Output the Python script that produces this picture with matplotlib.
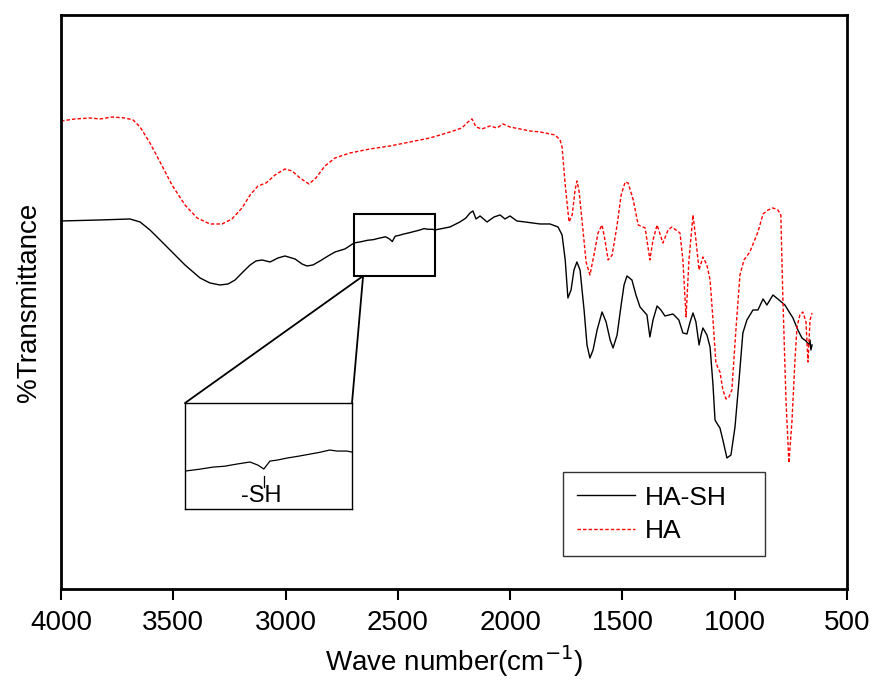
import numpy as np
import matplotlib
matplotlib.use('Agg')
import matplotlib.pyplot as plt
from matplotlib.patches import Rectangle, ConnectionPatch
import matplotlib.transforms as mtransforms

# wave numbers (cm-1) and transmittance (arbitrary units)
ha_sh_wn = [4000, 3826, 3693, 3648, 3604, 3559, 3506, 3448, 3381, 3337, 3292, 3256, 3225,
            3190, 3158, 3132, 3105, 3069, 3034, 3003, 2958, 2927, 2905, 2878, 2847, 2811,
            2780, 2736, 2695, 2665, 2635, 2610, 2583, 2555, 2538, 2525, 2512, 2495, 2475,
            2450, 2426, 2405, 2383, 2367, 2346, 2335, 2313, 2268, 2224, 2197, 2179, 2166,
            2152, 2134, 2103, 2072, 2045, 2023, 2001, 1970, 1934, 1867, 1823, 1787, 1769,
            1755, 1743, 1729, 1716, 1703, 1689, 1671, 1658, 1645, 1631, 1613, 1591, 1573,
            1555, 1542, 1524, 1506, 1493, 1480, 1458, 1440, 1422, 1391, 1378, 1364, 1346,
            1329, 1311, 1275, 1249, 1231, 1213, 1199, 1186, 1173, 1159, 1150, 1142, 1124,
            1110, 1097, 1088, 1075, 1066, 1053, 1035, 1017, 999, 981, 964, 946, 919, 897,
            874, 857, 830, 803, 777, 741, 719, 701, 683, 670, 665, 661, 656]
ha_sh_t = [368, 369, 370, 367, 359, 349, 337, 324, 311, 306, 304, 305, 309,
           317, 324, 328, 329, 327, 331, 333, 330, 325, 323, 324, 328, 333,
           337, 340, 346, 347.2, 348.7, 349.3, 350.8, 352.2, 350.1, 347.4, 352.8, 353.6, 354.9,
           356.2, 357.6, 358.8, 360.4, 359.7, 359.7, 359.0, 360, 362, 367, 371, 376, 378,
           370, 373, 367, 372, 374, 370, 373, 368, 367, 365, 365, 362, 354,
           329, 291, 299, 319, 327, 319, 279, 244, 231, 239, 259, 277, 267,
           249, 241, 254, 284, 304, 313, 309, 294, 282, 274, 252, 269, 283,
           279, 273, 275, 269, 256, 255, 267, 276, 267, 244, 254, 261, 254,
           242, 204, 169, 164, 161, 149, 131, 134, 162, 209, 256, 269, 279, 279,
           290, 284, 294, 289, 284, 271, 259, 251, 248, 244, 249, 239, 244]

ha_wn = [4000, 3938, 3871, 3826, 3773, 3715, 3679, 3648, 3604, 3559, 3506, 3448, 3394,
         3337, 3283, 3239, 3194, 3158, 3123, 3087, 3047, 3003, 2971, 2936, 2896, 2865,
         2825, 2780, 2713, 2624, 2535, 2446, 2357, 2268, 2215, 2188, 2170, 2152, 2126,
         2090, 2059, 2032, 2001, 1956, 1912, 1867, 1800, 1778, 1769, 1755, 1738, 1724,
         1711, 1703, 1694, 1676, 1662, 1645, 1627, 1609, 1591, 1578, 1564, 1546, 1524,
         1506, 1488, 1475, 1452, 1430, 1399, 1378, 1364, 1346, 1320, 1297, 1280, 1244,
         1231, 1217, 1204, 1186, 1173, 1159, 1142, 1124, 1110, 1097, 1084, 1066, 1053,
         1039, 1026, 1013, 995, 977, 959, 933, 897, 874, 852, 830, 808, 795, 786, 772,
         759, 745, 732, 723, 710, 697, 683, 674, 665, 656]
ha_t = [468, 470, 471, 470, 472, 471, 469, 462, 446, 427, 404, 384, 371,
        365, 365, 370, 381, 394, 403, 406, 414, 420, 418, 411, 405, 411,
        423, 431, 436, 440, 443, 447, 451, 457, 461, 467, 470, 462, 460,
        463, 461, 465, 462, 460, 458, 457, 454, 449, 442, 404, 367, 374,
        399, 408, 399, 359, 327, 314, 334, 356, 364, 349, 329, 334, 364,
        394, 407, 406, 389, 364, 361, 329, 349, 364, 346, 359, 362, 356,
        329, 272, 329, 374, 349, 319, 332, 324, 309, 269, 226, 217, 199,
        190, 192, 199, 259, 314, 329, 337, 357, 375, 379, 381, 379, 374, 292, 189,
        126, 169, 229, 262, 274, 277, 267, 227, 269, 276]

xticks = [4000, 3500, 3000, 2500, 2000, 1500, 1000, 500]
zoom_lo, zoom_hi = 2335, 2695


def main():
    plt.rcParams['font.family'] = ['Liberation Sans', 'DejaVu Sans']
    plt.rcParams['mathtext.default'] = 'regular'
    fig = plt.figure(figsize=(8.73, 6.90), dpi=100)
    ax = fig.add_axes([0.0699, 0.1464, 0.9004, 0.8319])

    ax.plot(ha_sh_wn, ha_sh_t, color='black', lw=1.0, label='HA-SH')
    ax.plot(ha_wn, ha_t, color='red', lw=1.0, ls=(0, (2.5, 1.5)), label='HA')

    ax.set_xlim(4000, 500)
    ax.set_ylim(0, 574)
    ax.set_xticks(xticks)
    ax.set_yticks([])
    ax.tick_params(axis='x', direction='out', length=8, width=1.5, labelsize=20, pad=7)
    for s in ax.spines.values():
        s.set_linewidth(2)
    ax.set_xlabel('Wave number(cm$^{\\mathrm{-1}}$)', fontsize=20, labelpad=6)
    ax.set_ylabel('%Transmittance', fontsize=20, labelpad=14)

    leg = ax.legend(loc='lower left', bbox_to_anchor=(0.639, 0.0575, 0.257, 0.143),
                    mode='expand', borderaxespad=0, fontsize=19, handlelength=2.2,
                    handletextpad=0.4, labelspacing=0.35, borderpad=0.5,
                    fancybox=False, framealpha=1)
    leg.get_frame().set_edgecolor('#333333')
    leg.get_frame().set_linewidth(1.0)

    # box around the -SH region
    rect = Rectangle((zoom_lo, 313), zoom_hi - zoom_lo, 62, fill=False,
                     edgecolor='black', lw=1.5, zorder=5)
    ax.add_patch(rect)

    # inset
    axin = fig.add_axes([0.2119, 0.2623, 0.1913, 0.1536])
    axin.plot(ha_sh_wn, ha_sh_t, color='black', lw=0.9)
    axin.set_xlim(zoom_hi, zoom_lo)
    axin.set_ylim(320, 392.6)
    axin.set_xticks([])
    axin.set_yticks([])
    for s in axin.spines.values():
        s.set_linewidth(1.0)
    trans = mtransforms.blended_transform_factory(axin.transData, axin.transAxes)
    axin.plot([2525, 2525], [0.21, 0.31], color='black', lw=0.9, transform=trans)
    axin.text(2530, 0.12, '-SH', transform=trans, ha='center', va='center', fontsize=17)

    for xb in (zoom_hi, zoom_lo):
        con = ConnectionPatch(xyA=(2655, 313), coordsA=ax.transData,
                              xyB=(xb, 392.6), coordsB=axin.transData,
                              color='black', lw=1.3)
        fig.add_artist(con)

    fig.savefig('out.png', dpi=100)


if __name__ == '__main__':
    main()
